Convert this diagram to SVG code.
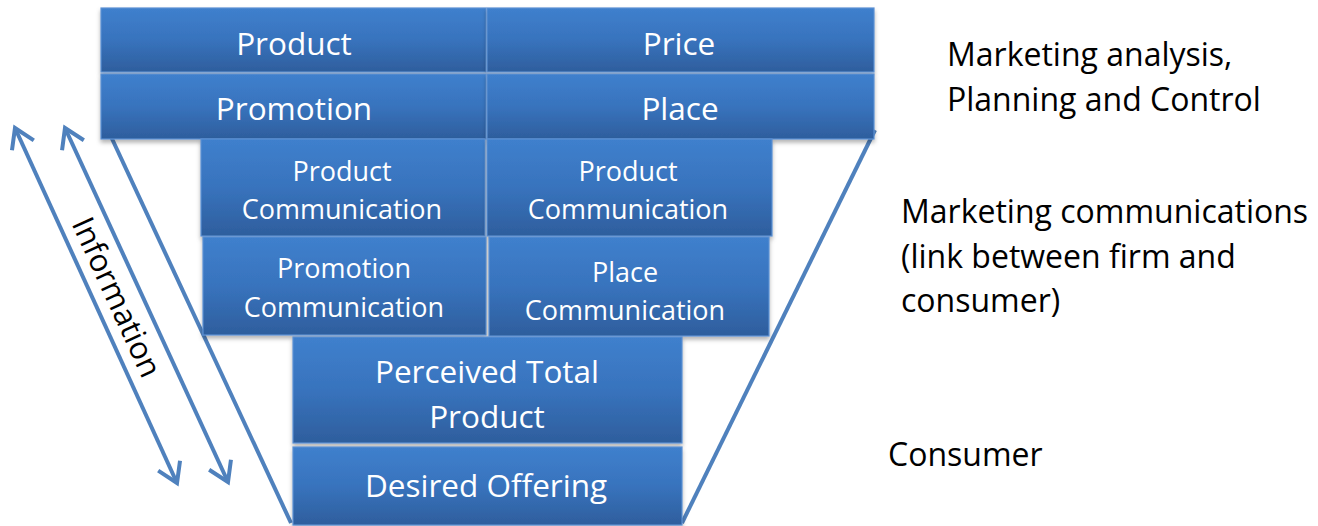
<svg xmlns="http://www.w3.org/2000/svg" width="1318" height="526" viewBox="0 0 1318 526">
  <defs>
    <linearGradient id="boxFill" x1="0" y1="0" x2="0" y2="1">
      <stop offset="0" stop-color="#3f80cd"/>
      <stop offset="0.5" stop-color="#3873bd"/>
      <stop offset="1" stop-color="#2e5e9d"/>
    </linearGradient>
    <filter id="shadow" x="-5%" y="-5%" width="110%" height="120%">
      <feDropShadow dx="0" dy="3" stdDeviation="2" flood-color="#000" flood-opacity="0.3"/>
    </filter>
    <marker id="vhead" markerUnits="userSpaceOnUse" markerWidth="44" markerHeight="44" viewBox="-30 -22 44 44" refX="0" refY="0" orient="auto-start-reverse">
      <path d="M-19,-12 L0,0 L-19,12" fill="none" stroke="#4f81bd" stroke-width="4" stroke-linejoin="miter"/>
    </marker>
  </defs>
  <style>
    .box { fill: url(#boxFill); stroke: #5b8fd2; stroke-width: 1.2; filter: url(#shadow); }
    .lbl { font-family: "Open Sans", "Noto Sans", "Liberation Sans", sans-serif; fill: #ffffff; text-anchor: middle; }
    .big { font-size: 31.5px; }
    .small { font-size: 27px; }
    .side { font-family: "Open Sans", "Noto Sans", "Liberation Sans", sans-serif; fill: #000000; font-size: 32px; }
    .edge { stroke: #4f81bd; stroke-width: 4; fill: none; }
  </style>

  <!-- funnel sides and information arrows -->
  <g id="connectors">
    <line class="edge" x1="107" y1="128" x2="291" y2="523"/>
    <line class="edge" x1="875" y1="130" x2="682" y2="523"/>
    <line class="edge" x1="15" y1="128" x2="177" y2="483" marker-start="url(#vhead)" marker-end="url(#vhead)"/>
    <line class="edge" x1="65" y1="128" x2="228" y2="482" marker-start="url(#vhead)" marker-end="url(#vhead)"/>
  </g>

  <g id="information-label">
    <text class="side" transform="translate(117,297) rotate(65.4)" y="11" text-anchor="middle" style="font-size:31px">Information</text>
  </g>

  <!-- marketing mix -->
  <g id="product">
    <rect class="box" x="101" y="8" width="385" height="64"/>
    <text class="lbl big" x="294" y="55">Product</text>
  </g>
  <g id="price">
    <rect class="box" x="487" y="8" width="387" height="64"/>
    <text class="lbl big" x="679" y="55">Price</text>
  </g>
  <g id="promotion">
    <rect class="box" x="101" y="74" width="385" height="65"/>
    <text class="lbl big" x="294" y="120">Promotion</text>
  </g>
  <g id="place">
    <rect class="box" x="487" y="74" width="387" height="65"/>
    <text class="lbl big" x="680" y="120">Place</text>
  </g>

  <!-- communication layer -->
  <g id="product-communication-left">
    <rect class="box" x="201" y="139" width="284" height="97"/>
    <text class="lbl small" x="342" y="181">Product</text>
    <text class="lbl small" x="342" y="219">Communication</text>
  </g>
  <g id="product-communication-right">
    <rect class="box" x="487" y="139" width="285" height="97"/>
    <text class="lbl small" x="628" y="181">Product</text>
    <text class="lbl small" x="628" y="219">Communication</text>
  </g>
  <g id="promotion-communication">
    <rect class="box" x="203" y="237" width="283" height="98"/>
    <text class="lbl small" x="344" y="278">Promotion</text>
    <text class="lbl small" x="344" y="317">Communication</text>
  </g>
  <g id="place-communication">
    <rect class="box" x="489" y="237" width="280" height="99"/>
    <text class="lbl small" x="625" y="282">Place</text>
    <text class="lbl small" x="625" y="320">Communication</text>
  </g>

  <!-- consumer layer -->
  <g id="perceived-total-product">
    <rect class="box" x="293" y="337" width="389" height="106"/>
    <text class="lbl big" x="487" y="383">Perceived Total</text>
    <text class="lbl big" x="487" y="428">Product</text>
  </g>
  <g id="desired-offering">
    <rect class="box" x="293" y="447" width="389" height="78"/>
    <text class="lbl big" x="486" y="497">Desired Offering</text>
  </g>

  <!-- level captions -->
  <g id="caption-planning">
    <text class="side" x="947" y="66">Marketing analysis,</text>
    <text class="side" x="947" y="111">Planning and Control</text>
  </g>
  <g id="caption-communications">
    <text class="side" x="901" y="223">Marketing communications</text>
    <text class="side" x="901" y="268">(link between firm and</text>
    <text class="side" x="901" y="312">consumer)</text>
  </g>
  <g id="caption-consumer">
    <text class="side" x="888" y="466">Consumer</text>
  </g>
</svg>
